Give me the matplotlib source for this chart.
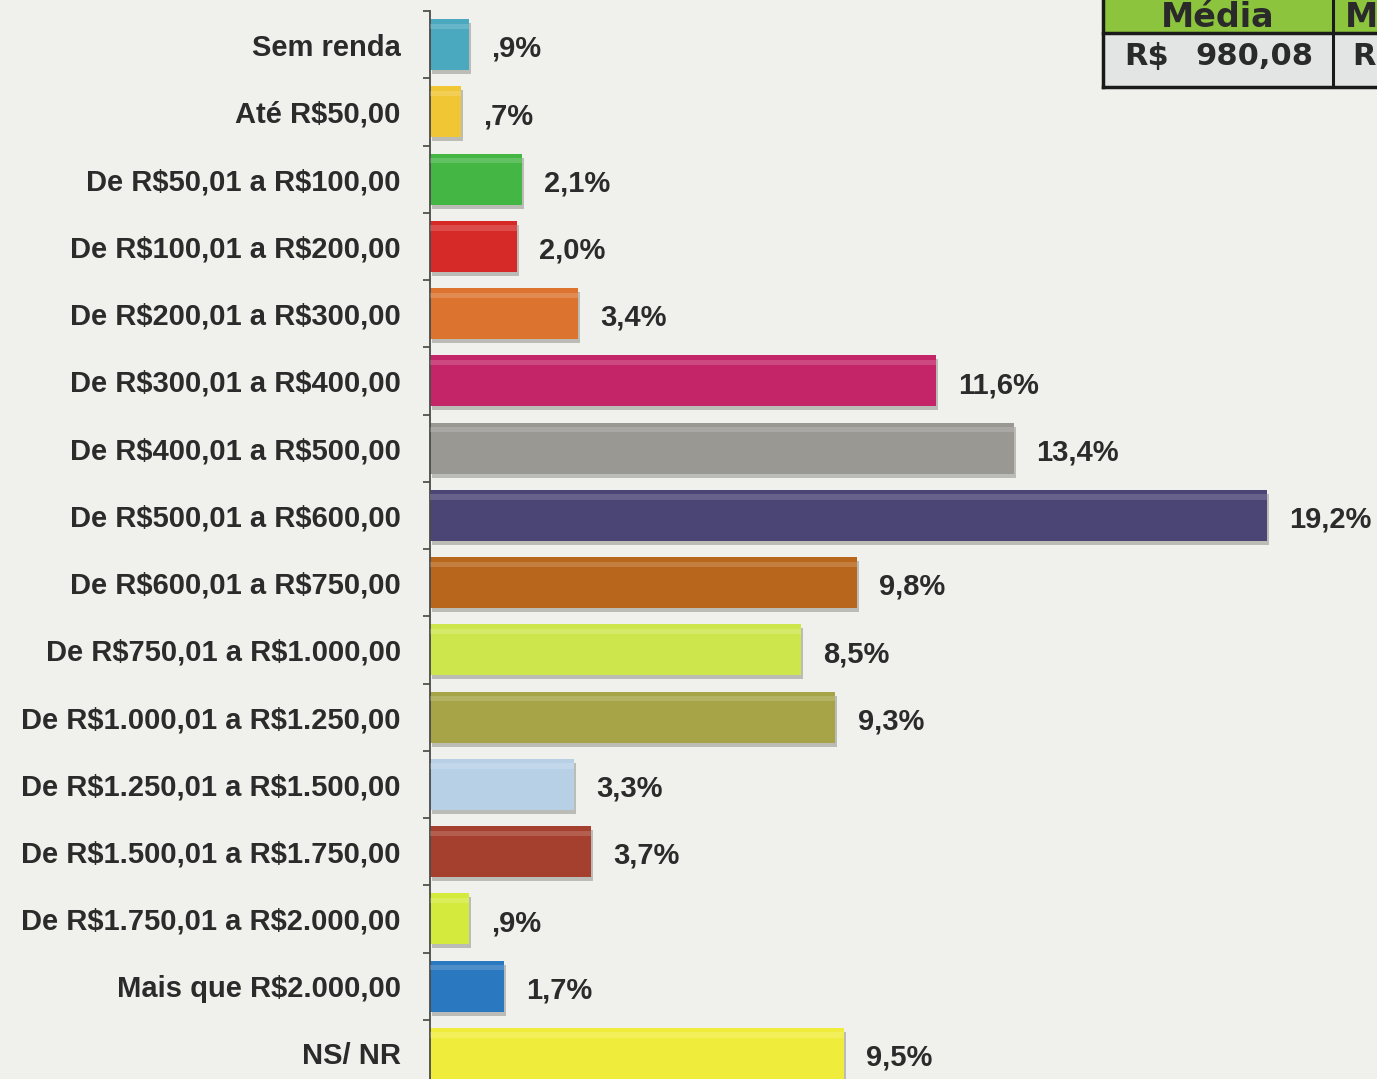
import matplotlib
matplotlib.use("Agg")
import matplotlib.pyplot as plt
import matplotlib.transforms as mtransforms
from matplotlib.patches import Rectangle

plt.rcParams["text.parse_math"] = False   # the labels are full of "$"

# ── data ─────────────────────────────────────────────────────────────────────
categories = [
    "Sem renda",
    "Até R$50,00",
    "De R$50,01 a R$100,00",
    "De R$100,01 a R$200,00",
    "De R$200,01 a R$300,00",
    "De R$300,01 a R$400,00",
    "De R$400,01 a R$500,00",
    "De R$500,01 a R$600,00",
    "De R$600,01 a R$750,00",
    "De R$750,01 a R$1.000,00",
    "De R$1.000,01 a R$1.250,00",
    "De R$1.250,01 a R$1.500,00",
    "De R$1.500,01 a R$1.750,00",
    "De R$1.750,01 a R$2.000,00",
    "Mais que R$2.000,00",
    "NS/ NR",
]
values = [0.9, 0.7, 2.1, 2.0, 3.4, 11.6, 13.4, 19.2, 9.8, 8.5, 9.3, 3.3, 3.7, 0.9, 1.7, 9.5]
value_labels = [",9%", ",7%", "2,1%", "2,0%", "3,4%", "11,6%", "13,4%", "19,2%",
                "9,8%", "8,5%", "9,3%", "3,3%", "3,7%", ",9%", "1,7%", "9,5%"]
colors = ["#4aa8bf", "#f0c634", "#44b644", "#d62a28", "#dc7430", "#c42468",
          "#9a9893", "#4b4575", "#b8661c", "#cce64c", "#a6a446", "#b8d0e6",
          "#a6402e", "#d4ea3c", "#2a78c0", "#f0ec3c"]

table_header = ["Média", "M"]
table_row = ["R$", "980,08", "R"]

# ── figure ───────────────────────────────────────────────────────────────────
BG = "#f0f0ed"
TXT = "#2b2b2b"
fig = plt.figure(figsize=(13.77, 10.79), dpi=100, facecolor=BG)

W, H = 1377, 1079
ax = fig.add_axes([430 / W, -8 / H, 959 / W, 1076 / H])
ax.set_facecolor("none")

y = list(range(len(categories)))
bh = 0.76

# drop shadow, bar, soft top highlight
shadow = mtransforms.offset_copy(ax.transData, fig=fig, x=2, y=-4, units="dots")
ax.barh(y, values, height=bh, color="#8a8a80", alpha=0.5, transform=shadow, zorder=1)
ax.barh(y, values, height=bh, color=colors, edgecolor="none", zorder=2)
ax.barh([i - bh * 0.36 for i in y], values, height=bh * 0.1,
        color="white", alpha=0.16, edgecolor="none", zorder=3)

for i, (v, lab) in enumerate(zip(values, value_labels)):
    ax.annotate(lab, xy=(v, i), xytext=(16, -3), textcoords="offset points",
                ha="left", va="center", fontsize=21, fontweight="bold",
                family="Liberation Sans", color=TXT)

ax.set_xlim(0, 22)
ax.set_ylim(len(categories) - 0.5, -0.5)
ax.set_yticks(y)
ax.set_yticklabels(categories, fontsize=21, fontweight="bold",
                   family="Liberation Sans", color=TXT)
ax.set_yticks([i - 0.5 for i in range(len(categories) + 1)], minor=True)
ax.tick_params(axis="y", which="major", length=0, pad=21)
ax.tick_params(axis="y", which="minor", length=5, width=1.2, color="#444444")
ax.set_xticks([])
for s in ["top", "right", "bottom"]:
    ax.spines[s].set_visible(False)
ax.spines["left"].set_color("#4a4a4a")
ax.spines["left"].set_linewidth(1.3)

# ── summary table (top right, partly cut off) ────────────────────────────────
ov = fig.add_axes([0, 0, 1, 1])
ov.set_xlim(0, W)
ov.set_ylim(H, 0)
ov.axis("off")
ov.add_patch(Rectangle((1103, -20), 400, 53, facecolor="#8dc43e", edgecolor="none"))
ov.add_patch(Rectangle((1103, 33), 400, 54, facecolor="#e3e5e4", edgecolor="none"))
ov.plot([1103, 1103], [-20, 87], color="#1a1a1a", lw=2.5)
ov.plot([1333, 1333], [-20, 87], color="#1a1a1a", lw=2.2)
ov.plot([1103, W], [33, 33], color="#1a1a1a", lw=2.5)
ov.plot([1103, W], [87, 87], color="#1a1a1a", lw=2.5)

tfont = dict(family="DejaVu Sans", fontweight="bold", color="#2a2a2a")
ov.text(1218, 27, table_header[0], ha="center", va="baseline", fontsize=24, **tfont)
ov.text(1345, 27, table_header[1], ha="left", va="baseline", fontsize=24, **tfont)
ov.text(1124, 65, table_row[0], ha="left", va="baseline", fontsize=22, **tfont)
ov.text(1313, 65, table_row[1], ha="right", va="baseline", fontsize=22, **tfont)
ov.text(1352, 65, table_row[2], ha="left", va="baseline", fontsize=22, **tfont)

fig.savefig("out.png", dpi=100, facecolor=BG)
